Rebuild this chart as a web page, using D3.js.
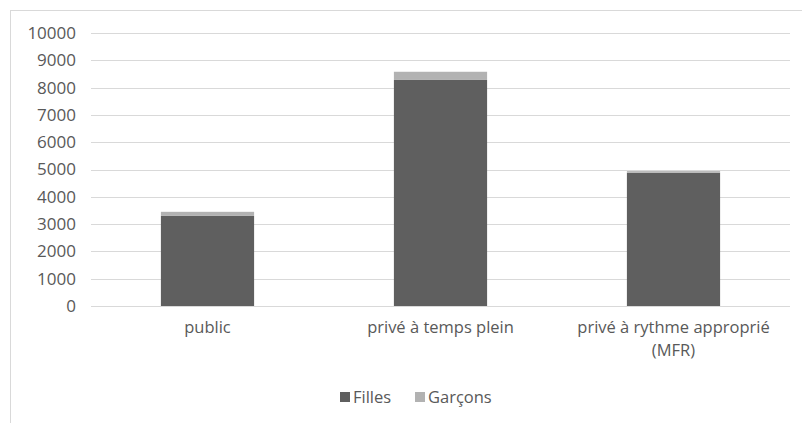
<!DOCTYPE html>
<html>
<head>
<meta charset="utf-8">
<script src="https://cdn.jsdelivr.net/npm/d3@7/dist/d3.min.js"></script>
<style>
  body { margin: 0; background: #fff; }
  text { font-family: "Open Sans", "Noto Sans", sans-serif; fill: #595959; }
</style>
</head>
<body>
<div id="chart"></div>
<script>
// data
var categories = ["public", "privé à temps plein", "privé à rythme approprié (MFR)"];
var filles = [3300, 8280, 4880];
var garcons = [150, 300, 60];
var seriesNames = ["Filles", "Garçons"];
var yTicks = [0, 1000, 2000, 3000, 4000, 5000, 6000, 7000, 8000, 9000, 10000];

var svgWidth = 802;
var svgHeight = 423;

var margin = { top: 33, right: 12, bottom: 117, left: 91 };
var width = svgWidth - margin.left - margin.right;
var height = svgHeight - margin.top - margin.bottom;

var svg = d3.select("#chart")
  .append("svg")
  .attr("width", svgWidth)
  .attr("height", svgHeight);

// outer frame
svg.append("rect")
  .attr("x", 10.5)
  .attr("y", 10.5)
  .attr("width", svgWidth)
  .attr("height", svgHeight)
  .attr("fill", "none")
  .attr("stroke", "#d9d9d9")
  .attr("stroke-width", 1);

var chartGroup = svg.append("g")
  .attr("transform", `translate(${margin.left}, ${margin.top})`);

var x = d3.scaleBand()
  .domain(categories)
  .range([0, width])
  .paddingInner(0.6)
  .paddingOuter(0.3);

var y = d3.scaleLinear()
  .domain([0, 10000])
  .range([height, 0]);

// gridlines
chartGroup.selectAll(".grid")
  .data(yTicks)
  .enter()
  .append("line")
  .attr("x1", 0)
  .attr("x2", width)
  .attr("y1", d => Math.round(y(d)) + 0.5)
  .attr("y2", d => Math.round(y(d)) + 0.5)
  .attr("stroke", "#d9d9d9")
  .attr("stroke-width", 1);

// y labels
var leftAxis = d3.axisLeft(y)
  .tickValues(yTicks)
  .tickFormat(d3.format("d"))
  .tickSize(0)
  .tickPadding(15);
var yAxis = chartGroup.append("g").call(leftAxis);
yAxis.attr("font-size", null).attr("font-family", null);
yAxis.select(".domain").remove();
yAxis.selectAll("text")
  .style("font-size", "17px")
  .attr("fill", "#595959");

var stackData = categories.map((c, i) => ({ cat: c, Filles: filles[i], "Garçons": garcons[i] }));
var stack = d3.stack().keys(seriesNames)(stackData);
var colors = d3.scaleOrdinal().domain(seriesNames).range(["#5f5f5f", "#b2b2b2"]);

chartGroup.selectAll(".layer")
  .data(stack)
  .enter()
  .append("g")
  .attr("fill", d => colors(d.key))
  .selectAll("rect")
  .data(d => d)
  .enter()
  .append("rect")
  .attr("x", d => x(d.data.cat))
  .attr("width", x.bandwidth())
  .attr("y", d => y(d[1]))
  .attr("height", d => y(d[0]) - y(d[1]));

// category labels (wrapped)
var catLabels = chartGroup.append("g")
  .attr("transform", `translate(0, ${height})`);

var lines = [["public"], ["privé à temps plein"], ["privé à rythme approprié", "(MFR)"]];
categories.forEach(function(c, i) {
  var t = catLabels.append("text")
    .attr("x", x(c) + x.bandwidth() / 2)
    .attr("y", 27)
    .attr("text-anchor", "middle")
    .style("font-size", "16.5px");
  lines[i].forEach(function(l, j) {
    t.append("tspan")
      .attr("x", x(c) + x.bandwidth() / 2)
      .attr("dy", j === 0 ? 0 : 23)
      .text(l);
  });
});

// legend
var legend = svg.append("g")
  .attr("transform", "translate(340, 403)");

var legendX = [0, 75];
seriesNames.forEach(function(s, i) {
  legend.append("rect")
    .attr("x", legendX[i])
    .attr("y", -11)
    .attr("width", 10)
    .attr("height", 10)
    .attr("fill", colors(s));
  legend.append("text")
    .attr("x", legendX[i] + 13)
    .attr("y", 0)
    .style("font-size", "16.5px")
    .text(s);
});
</script>
</body>
</html>
